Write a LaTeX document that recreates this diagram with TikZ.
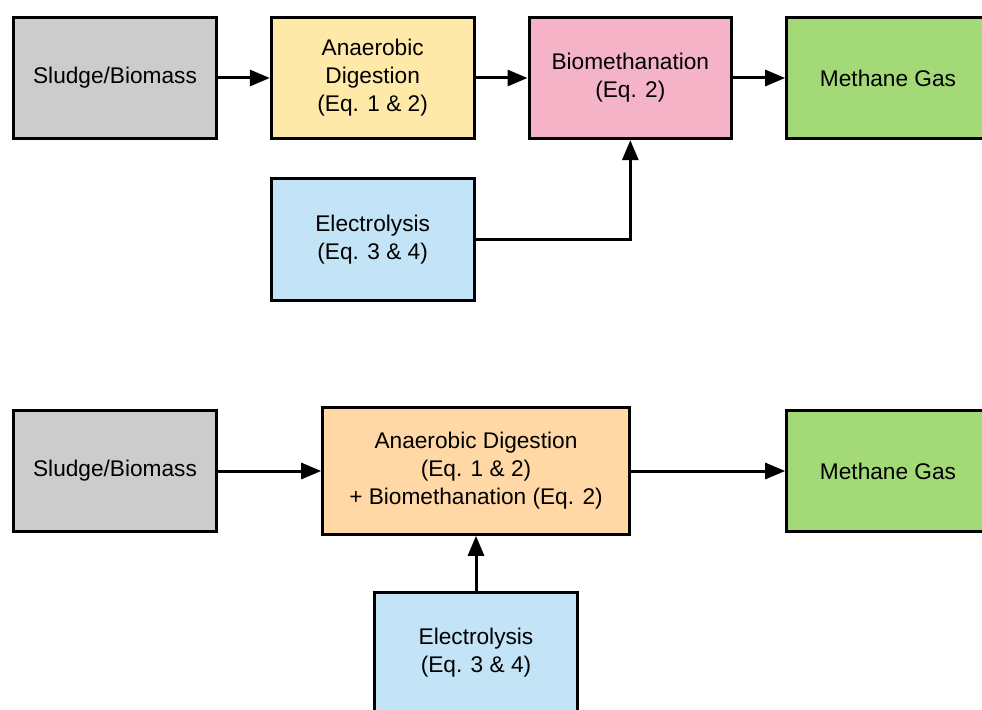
\documentclass[tikz,border=0pt]{standalone}
\usepackage{fontspec}
\setmainfont{Liberation Sans}
\usetikzlibrary{arrows.meta,positioning}
\definecolor{feedgray}{HTML}{CCCCCC}
\definecolor{adyellow}{HTML}{FFE9A8}
\definecolor{bmpink}{HTML}{F4B3C6}
\definecolor{gasgreen}{HTML}{A3D977}
\definecolor{elblue}{HTML}{C3E3F6}
\definecolor{mixorange}{HTML}{FFD8A6}
\begin{document}
\begin{tikzpicture}[
    x=0.75pt, y=-0.75pt,
    node distance=39pt,
    box/.style={draw, line width=2.25pt, minimum width=152pt, minimum height=91pt, align=center, font=\fontsize{17}{21}\selectfont},
    arrow/.style={-{Triangle[length=15pt, width=12pt]}, line width=2.25pt}
  ]
    \useasboundingbox (0,0) rectangle (982,710);
    % separate reactors
    \node[box, fill=feedgray] (feed1) at (115,78) {Sludge/Biomass};
    \node[box, fill=adyellow, right=of feed1] (ad1) {Anaerobic\\Digestion\\(Eq. 1 \& 2)};
    \node[box, fill=bmpink, right=of ad1] (bmeth1) {Biomethanation\\(Eq. 2)};
    \node[box, fill=gasgreen, right=of bmeth1] (gas1) {Methane Gas};
    \node[box, fill=elblue, below=27.75pt of ad1] (elec1) {Electrolysis\\(Eq. 3 \& 4)};
    \draw[arrow] (feed1) -- (ad1);
    \draw[arrow] (ad1) -- (bmeth1);
    \draw[arrow] (bmeth1) -- (gas1);
    \draw[arrow] (elec1.east) -| (bmeth1.south);
    % combined reactor
    \node[box, fill=feedgray] (feed2) at (115,471) {Sludge/Biomass};
    \node[box, fill=mixorange, minimum width=230pt, minimum height=95pt] (ad2) at (476,471) {Anaerobic Digestion\\(Eq. 1 \& 2)\\+ Biomethanation (Eq. 2)};
    \node[box, fill=gasgreen] (gas2) at (888,471) {Methane Gas};
    \node[box, fill=elblue] (elec2) at (476,653) {Electrolysis\\(Eq. 3 \& 4)};
    \draw[arrow] (feed2) -- (ad2);
    \draw[arrow] (ad2) -- (gas2);
    \draw[arrow] (elec2) -- (ad2);
  \end{tikzpicture}
\end{document}
